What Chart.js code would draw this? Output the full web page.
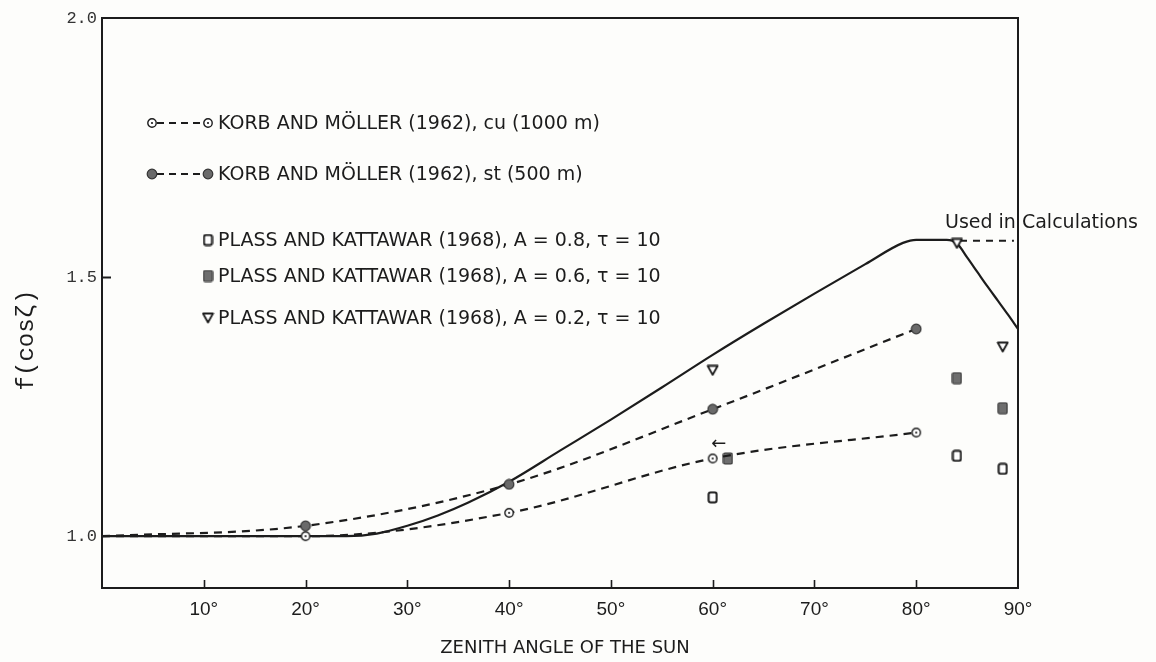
<!DOCTYPE html>
<html>
<head>
<meta charset="utf-8">
<script src="https://cdn.jsdelivr.net/npm/chart.js@4.4.1/dist/chart.umd.min.js"></script>
<style>
  html, body { margin: 0; padding: 0; background: #fdfdfb; }
  #wrap { width: 1156px; height: 662px; }
</style>
</head>
<body>
<div id="wrap"><canvas id="c" width="1156" height="662"></canvas></div>
<script>
// Korb and Möller (1962): zenith angle (deg) and f(cos ζ)
const korbAngles = [0, 20, 40, 60, 80];
const korbCu = [1.0, 1.0, 1.045, 1.15, 1.20];
const korbSt = [1.0, 1.02, 1.10, 1.245, 1.40];

// Plass and Kattawar (1968), τ = 10
const plass08Angles = [60, 84, 88.5];
const plass08 = [1.075, 1.155, 1.13];
const plass06Angles = [61.5, 84, 88.5];
const plass06 = [1.15, 1.305, 1.247];
const plass02Angles = [60, 84, 88.5];
const plass02 = [1.32, 1.565, 1.365];

// Curve used in the calculations
const usedAngles = [0, 10, 20, 24, 27, 30, 33, 36, 40, 45, 50, 55, 60, 65, 70, 75, 78.7, 80, 83, 84, 85, 86, 87, 88, 89, 90];
const usedValues = [1.0, 1.0, 1.0, 1.0, 1.005, 1.02, 1.04, 1.065, 1.105, 1.165, 1.225, 1.287, 1.35, 1.41, 1.468, 1.525, 1.566, 1.572, 1.572, 1.565, 1.538, 1.51, 1.482, 1.455, 1.428, 1.40];
const usedFlatAngles = [84.3, 89.6];
const usedFlatValues = [1.57, 1.57];

const xTicks = [10, 20, 30, 40, 50, 60, 70, 80, 90];
const yTicks = [1.0, 1.5, 2.0];

const legendLabels = [
  'KORB AND MÖLLER (1962), cu (1000 m)',
  'KORB AND MÖLLER (1962), st (500 m)',
  'PLASS AND KATTAWAR (1968), A = 0.8, τ = 10',
  'PLASS AND KATTAWAR (1968), A = 0.6, τ = 10',
  'PLASS AND KATTAWAR (1968), A = 0.2, τ = 10'
];
const usedLabel = 'Used in Calculations';
const xTitle = 'ZENITH ANGLE OF THE SUN';
const yTitle = 'f(cosζ)';

const INK = '#1c1c1c';
const SANS = '"DejaVu Sans", "Liberation Sans", sans-serif';

function pts(xs, ys) { return xs.map((x, i) => ({ x: x, y: ys[i] })); }

function markerCanvas(w, h, draw) {
  const c = document.createElement('canvas');
  c.width = w; c.height = h;
  draw(c.getContext('2d'), w, h);
  return c;
}
const cuMark = markerCanvas(12, 12, g => {
  g.beginPath(); g.arc(6, 6, 4.2, 0, Math.PI * 2);
  g.fillStyle = '#fff'; g.fill();
  g.lineWidth = 1.4; g.strokeStyle = INK; g.stroke();
  g.beginPath(); g.arc(6, 6, 1.1, 0, Math.PI * 2); g.fillStyle = INK; g.fill();
});
const stMark = markerCanvas(12, 12, g => {
  g.beginPath(); g.arc(6, 6, 4.8, 0, Math.PI * 2);
  g.fillStyle = '#6a6a6a'; g.fill();
  g.lineWidth = 1.2; g.strokeStyle = '#333'; g.stroke();
});
const sqOpen = markerCanvas(11, 13, g => {
  g.beginPath(); g.roundRect(1.5, 1.5, 8, 10, 2);
  g.fillStyle = '#fff'; g.fill();
  g.lineWidth = 2; g.strokeStyle = INK; g.stroke();
});
const sqFilled = markerCanvas(11, 13, g => {
  g.beginPath(); g.roundRect(1, 1, 9, 11, 1.5);
  g.fillStyle = '#6e6e6e'; g.fill();
  g.lineWidth = 1.2; g.strokeStyle = '#333'; g.stroke();
});
const triDown = markerCanvas(13, 12, g => {
  g.beginPath(); g.moveTo(1.5, 1.5); g.lineTo(11.5, 1.5); g.lineTo(6.5, 10.5); g.closePath();
  g.fillStyle = '#fff'; g.fill();
  g.lineWidth = 1.8; g.lineJoin = 'round'; g.strokeStyle = INK; g.stroke();
});

const dash = [8, 6];

const framePlugin = {
  id: 'frame',
  beforeDatasetsDraw(chart) {
    const { ctx, chartArea: a, scales } = chart;
    ctx.save();
    ctx.strokeStyle = INK;
    ctx.lineWidth = 2;
    ctx.beginPath();
    ctx.moveTo(a.left, a.top); ctx.lineTo(a.right, a.top);
    ctx.lineTo(a.right, a.bottom); ctx.lineTo(a.left, a.bottom); ctx.closePath();
    ctx.stroke();
    ctx.lineWidth = 1.6;
    xTicks.slice(0, -1).forEach(v => {
      const px = Math.round(scales.x.getPixelForValue(v)) + 0.5;
      ctx.beginPath(); ctx.moveTo(px, a.bottom); ctx.lineTo(px, a.bottom - 8); ctx.stroke();
    });
    const py = Math.round(scales.y.getPixelForValue(1.5)) + 0.5;
    ctx.lineWidth = 2;
    ctx.beginPath(); ctx.moveTo(a.left, py); ctx.lineTo(a.left + 9, py); ctx.stroke();
    ctx.restore();
  },
  afterDraw(chart) {
    const { ctx, scales } = chart;
    ctx.save();
    ctx.fillStyle = INK;
    ctx.strokeStyle = INK;
    ctx.textBaseline = 'middle';
    ctx.textAlign = 'left';
    ctx.font = '19px ' + SANS;
    // legend
    const rowsY = [123, 174, 240, 276, 318];
    const symX = 208, textX = 218;
    const marks = [cuMark, stMark, sqOpen, sqFilled, triDown];
    rowsY.forEach((y, i) => {
      const m = marks[i];
      if (i < 2) {
        ctx.save();
        ctx.lineWidth = 2; ctx.setLineDash([7, 5]);
        ctx.beginPath(); ctx.moveTo(157, y); ctx.lineTo(203, y); ctx.stroke();
        ctx.restore();
        ctx.drawImage(m, 152 - m.width / 2, y - m.height / 2);
      }
      ctx.drawImage(m, symX - m.width / 2, y - m.height / 2);
      ctx.fillText(legendLabels[i], textX, y + 1);
    });
    // annotation of the flat segment
    ctx.fillText(usedLabel, 945, 223);
    // arrow pointing at the 60° Plass point
    ctx.font = '18px ' + SANS;
    ctx.textAlign = 'center';
    ctx.fillText('←', scales.x.getPixelForValue(60.6), scales.y.getPixelForValue(1.178));
    // axis titles
    ctx.font = '18px ' + SANS;
    ctx.fillText(xTitle, 565, 648);
    ctx.save();
    ctx.translate(27, 340);
    ctx.rotate(-Math.PI / 2);
    ctx.font = '24px "Liberation Mono", "DejaVu Sans Mono", monospace';
    ctx.fillText(yTitle, 0, 0);
    ctx.restore();
    ctx.restore();
  }
};

new Chart(document.getElementById('c'), {
  type: 'scatter',
  data: {
    datasets: [
      {
        label: legendLabels[0], data: pts(korbAngles, korbCu), showLine: true,
        borderColor: INK, borderWidth: 2.2, borderDash: dash, cubicInterpolationMode: 'monotone',
        pointStyle: cuMark, pointRadius: [0, 5, 5, 5, 5]
      },
      {
        label: legendLabels[1], data: pts(korbAngles, korbSt), showLine: true,
        borderColor: INK, borderWidth: 2.2, borderDash: dash, cubicInterpolationMode: 'monotone',
        pointStyle: stMark, pointRadius: [0, 5, 5, 5, 5]
      },
      { label: legendLabels[2], data: pts(plass08Angles, plass08), pointStyle: sqOpen, pointRadius: 5 },
      { label: legendLabels[3], data: pts(plass06Angles, plass06), pointStyle: sqFilled, pointRadius: 5 },
      { label: legendLabels[4], data: pts(plass02Angles, plass02), pointStyle: triDown, pointRadius: 5 },
      {
        label: usedLabel, data: pts(usedAngles, usedValues), showLine: true,
        borderColor: INK, borderWidth: 2.2, cubicInterpolationMode: 'monotone', pointRadius: 0
      },
      {
        label: usedLabel + ' (flat)', data: pts(usedFlatAngles, usedFlatValues), showLine: true,
        borderColor: INK, borderWidth: 2, borderDash: [7, 6], pointRadius: 0
      }
    ]
  },
  options: {
    responsive: false,
    devicePixelRatio: 1,
    animation: false,
    events: [],
    layout: { padding: { left: 0, top: 18, right: 138, bottom: 0 } },
    plugins: { legend: { display: false }, tooltip: { enabled: false } },
    scales: {
      x: {
        type: 'linear', min: 0, max: 90,
        afterBuildTicks: s => { s.ticks = xTicks.map(v => ({ value: v })); },
        afterFit: s => { s.height = 74; },
        grid: { display: false, drawTicks: false },
        border: { display: false },
        ticks: {
          padding: 10, color: INK, maxRotation: 0, autoSkip: false,
          font: { family: '"Liberation Sans Narrow", "Liberation Sans", sans-serif', size: 19 },
          callback: v => v + '°'
        }
      },
      y: {
        type: 'linear', min: 0.9, max: 2.0,
        afterBuildTicks: s => { s.ticks = yTicks.map(v => ({ value: v })); },
        afterFit: s => { s.width = 102; },
        grid: { display: false, drawTicks: false },
        border: { display: false },
        ticks: {
          padding: 5, color: '#333',
          font: { family: '"Liberation Mono", "DejaVu Sans Mono", monospace', size: 17 },
          callback: v => Number(v).toFixed(1)
        }
      }
    }
  },
  plugins: [framePlugin]
});
</script>
</body>
</html>
